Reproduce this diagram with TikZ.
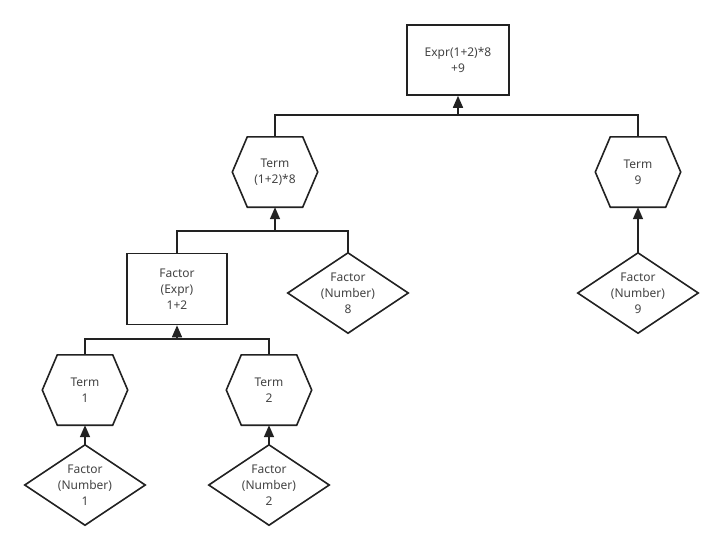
\documentclass[tikz,border=0pt]{standalone}
\usepackage{fontspec}
\setmainfont{Noto Sans}
\usetikzlibrary{calc,arrows.meta}
\definecolor{ln}{HTML}{222222}
\definecolor{tx}{HTML}{444444}
\tikzset{
  base/.style={inner sep=0pt, align=center, text=tx, font=\fontsize{12}{16}\selectfont},
  boxnode/.style={base, draw=ln, line width=1.6pt, minimum width=102pt, minimum height=70pt},
  hexnode/.style={base, minimum width=85pt, minimum height=70pt},
  dianode/.style={base, minimum width=120pt, minimum height=80pt},
  shapeline/.style={draw=ln, line width=1.6pt, line join=miter},
  conn/.style={draw=ln, line width=1.6pt},
  arr/.style={conn, -{Triangle[width=10pt,length=12pt]}}
}
\begin{document}
\begin{tikzpicture}[x=1pt,y=-1pt]
\useasboundingbox[fill=white] (0,0) rectangle (723,550);
% nodes
\node[boxnode] (expr) at (458,60) {Expr(1+2)*8\\+9};
\node[hexnode] (t18) at (275,172) {Term\\(1+2)*8};
\node[hexnode] (t9) at (638,172) {Term\\9};
\node[boxnode, minimum width=100pt, minimum height=71pt] (f12) at (177,289) {Factor\\(Expr)\\1+2};
\node[dianode] (d8) at (348,293) {Factor\\(Number)\\8};
\node[dianode] (d9) at (638,293) {Factor\\(Number)\\9};
\node[hexnode] (t1) at (85,390) {Term\\1};
\node[hexnode] (t2) at (269,390) {Term\\2};
\node[dianode] (d1) at (85,485) {Factor\\(Number)\\1};
\node[dianode] (d2) at (269,485) {Factor\\(Number)\\2};
% hexagon outlines
\foreach \n in {t18,t9,t1,t2}
  \draw[shapeline] (\n.west) -- ($(\n.north west)+(15,0)$) -- ($(\n.north east)+(-15,0)$)
    -- (\n.east) -- ($(\n.south east)+(-15,0)$) -- ($(\n.south west)+(15,0)$) -- cycle;
% diamond outlines
\foreach \n in {d8,d9,d1,d2}
  \draw[shapeline] (\n.north) -- (\n.east) -- (\n.south) -- (\n.west) -- cycle;
% junctions
\coordinate (j1) at (458,115);
\coordinate (j2) at (275,231);
\coordinate (j3) at (177,339);
% connectors
\draw[conn] (t18.north) |- (j1) -| (t9.north);
\draw[arr] (j1) -- (expr.south);
\draw[conn] (f12.north) |- (j2) -| (d8.north);
\draw[arr] (j2) -- (t18.south);
\draw[arr] (d9.north) -- (t9.south);
\draw[conn] (t1.north) |- (j3) -| (t2.north);
\draw[arr] (j3) -- (f12.south);
\draw[arr] (d1.north) -- (t1.south);
\draw[arr] (d2.north) -- (t2.south);
\end{tikzpicture}
\end{document}
